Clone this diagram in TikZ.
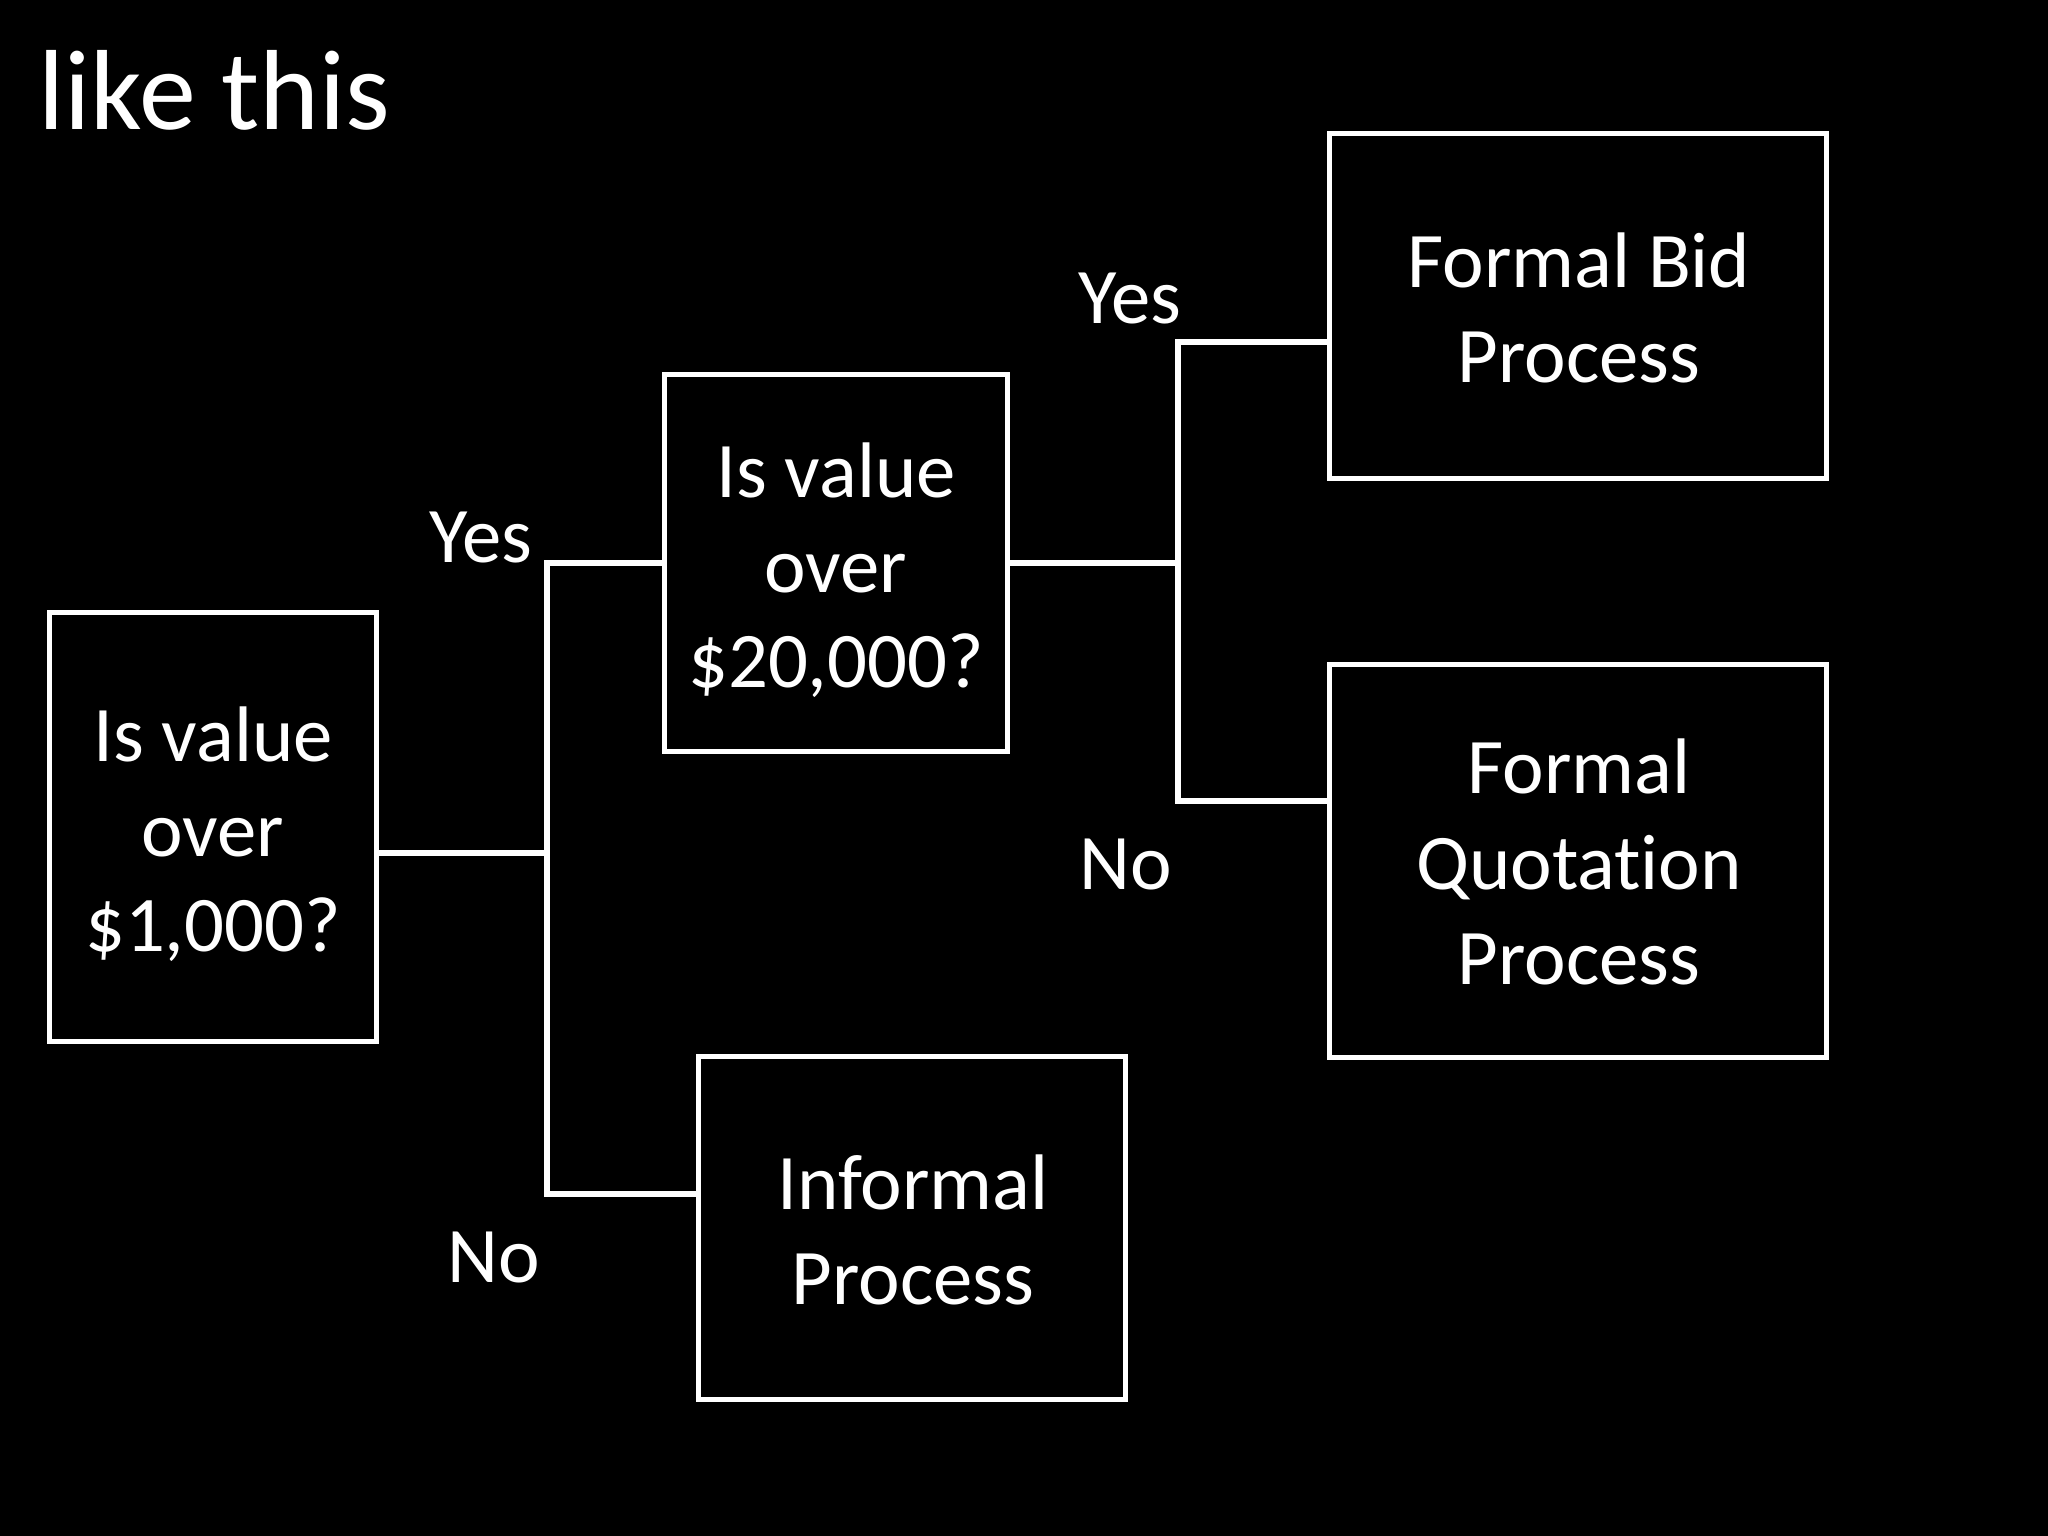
\documentclass[tikz,border=0pt]{standalone}
\usepackage{fontspec}
\setmainfont[Ligatures=NoCommon]{Carlito}
\begin{document}
\begin{tikzpicture}[x=0.01cm,y=-0.01cm,
  box/.style={draw=white,line width=1.45pt,fill=black,inner sep=0pt},
  txt/.style={text=white,align=center,font=\fontsize{22.4}{27.1}\selectfont,inner sep=0pt},
  lbl/.style={text=white,font=\fontsize{22.4}{27.1}\selectfont,inner sep=0pt,anchor=base},
  conn/.style={draw=white,line width=1.45pt,line join=miter}]
\fill[black] (0,0) rectangle (2048,1536);
\useasboundingbox (0,0) rectangle (2048,1536);
\node[text=white,anchor=base west,inner sep=0pt,font=\fontsize{32.4}{36}\selectfont] (title) at (38,129) {like this};
\node[box,minimum width=3.27cm,minimum height=4.28cm] (b1) at (213,827) {};
\node[box,minimum width=3.42cm,minimum height=3.76cm] (b2) at (836,563) {};
\node[box,minimum width=4.27cm,minimum height=3.42cm] (b3) at (912,1228) {};
\node[box,minimum width=4.96cm,minimum height=3.44cm] (b4) at (1578,306) {};
\node[box,minimum width=4.96cm,minimum height=3.93cm] (b5) at (1578,861) {};
\node[txt] (t1) at (213,834) {Is value\\over\\\$1,000?};
\node[txt] (t2) at (836,570) {Is value\\over\\\$20,000?};
\node[txt] (t3) at (913,1230) {Informal\\Process};
\node[txt] (t4) at (1579,308) {Formal Bid\\Process};
\node[txt] (t5) at (1579,862) {Formal\\Quotation\\Process};
\coordinate (j1) at (547,853);
\coordinate (j1t) at (547,563);
\coordinate (j1b) at (547,1194);
\coordinate (j2) at (1178,563);
\coordinate (j2t) at (1178,342);
\coordinate (j2b) at (1178,801);
\draw[conn] (b1.east |- j1) -- (j1);
\draw[conn] (b2.west |- j1t) -- (j1t) -- (j1b) -- (b3.west |- j1b);
\draw[conn] (b2.east) -- (j2);
\draw[conn] (b4.west |- j2t) -- (j2t) -- (j2b) -- (b5.west |- j2b);
\node[lbl] (y1) at (481,562) {Yes};
\node[lbl] (n1) at (494,1282) {No};
\node[lbl] (y2) at (1130,323) {Yes};
\node[lbl] (n2) at (1126,889) {No};
\end{tikzpicture}
\end{document}
